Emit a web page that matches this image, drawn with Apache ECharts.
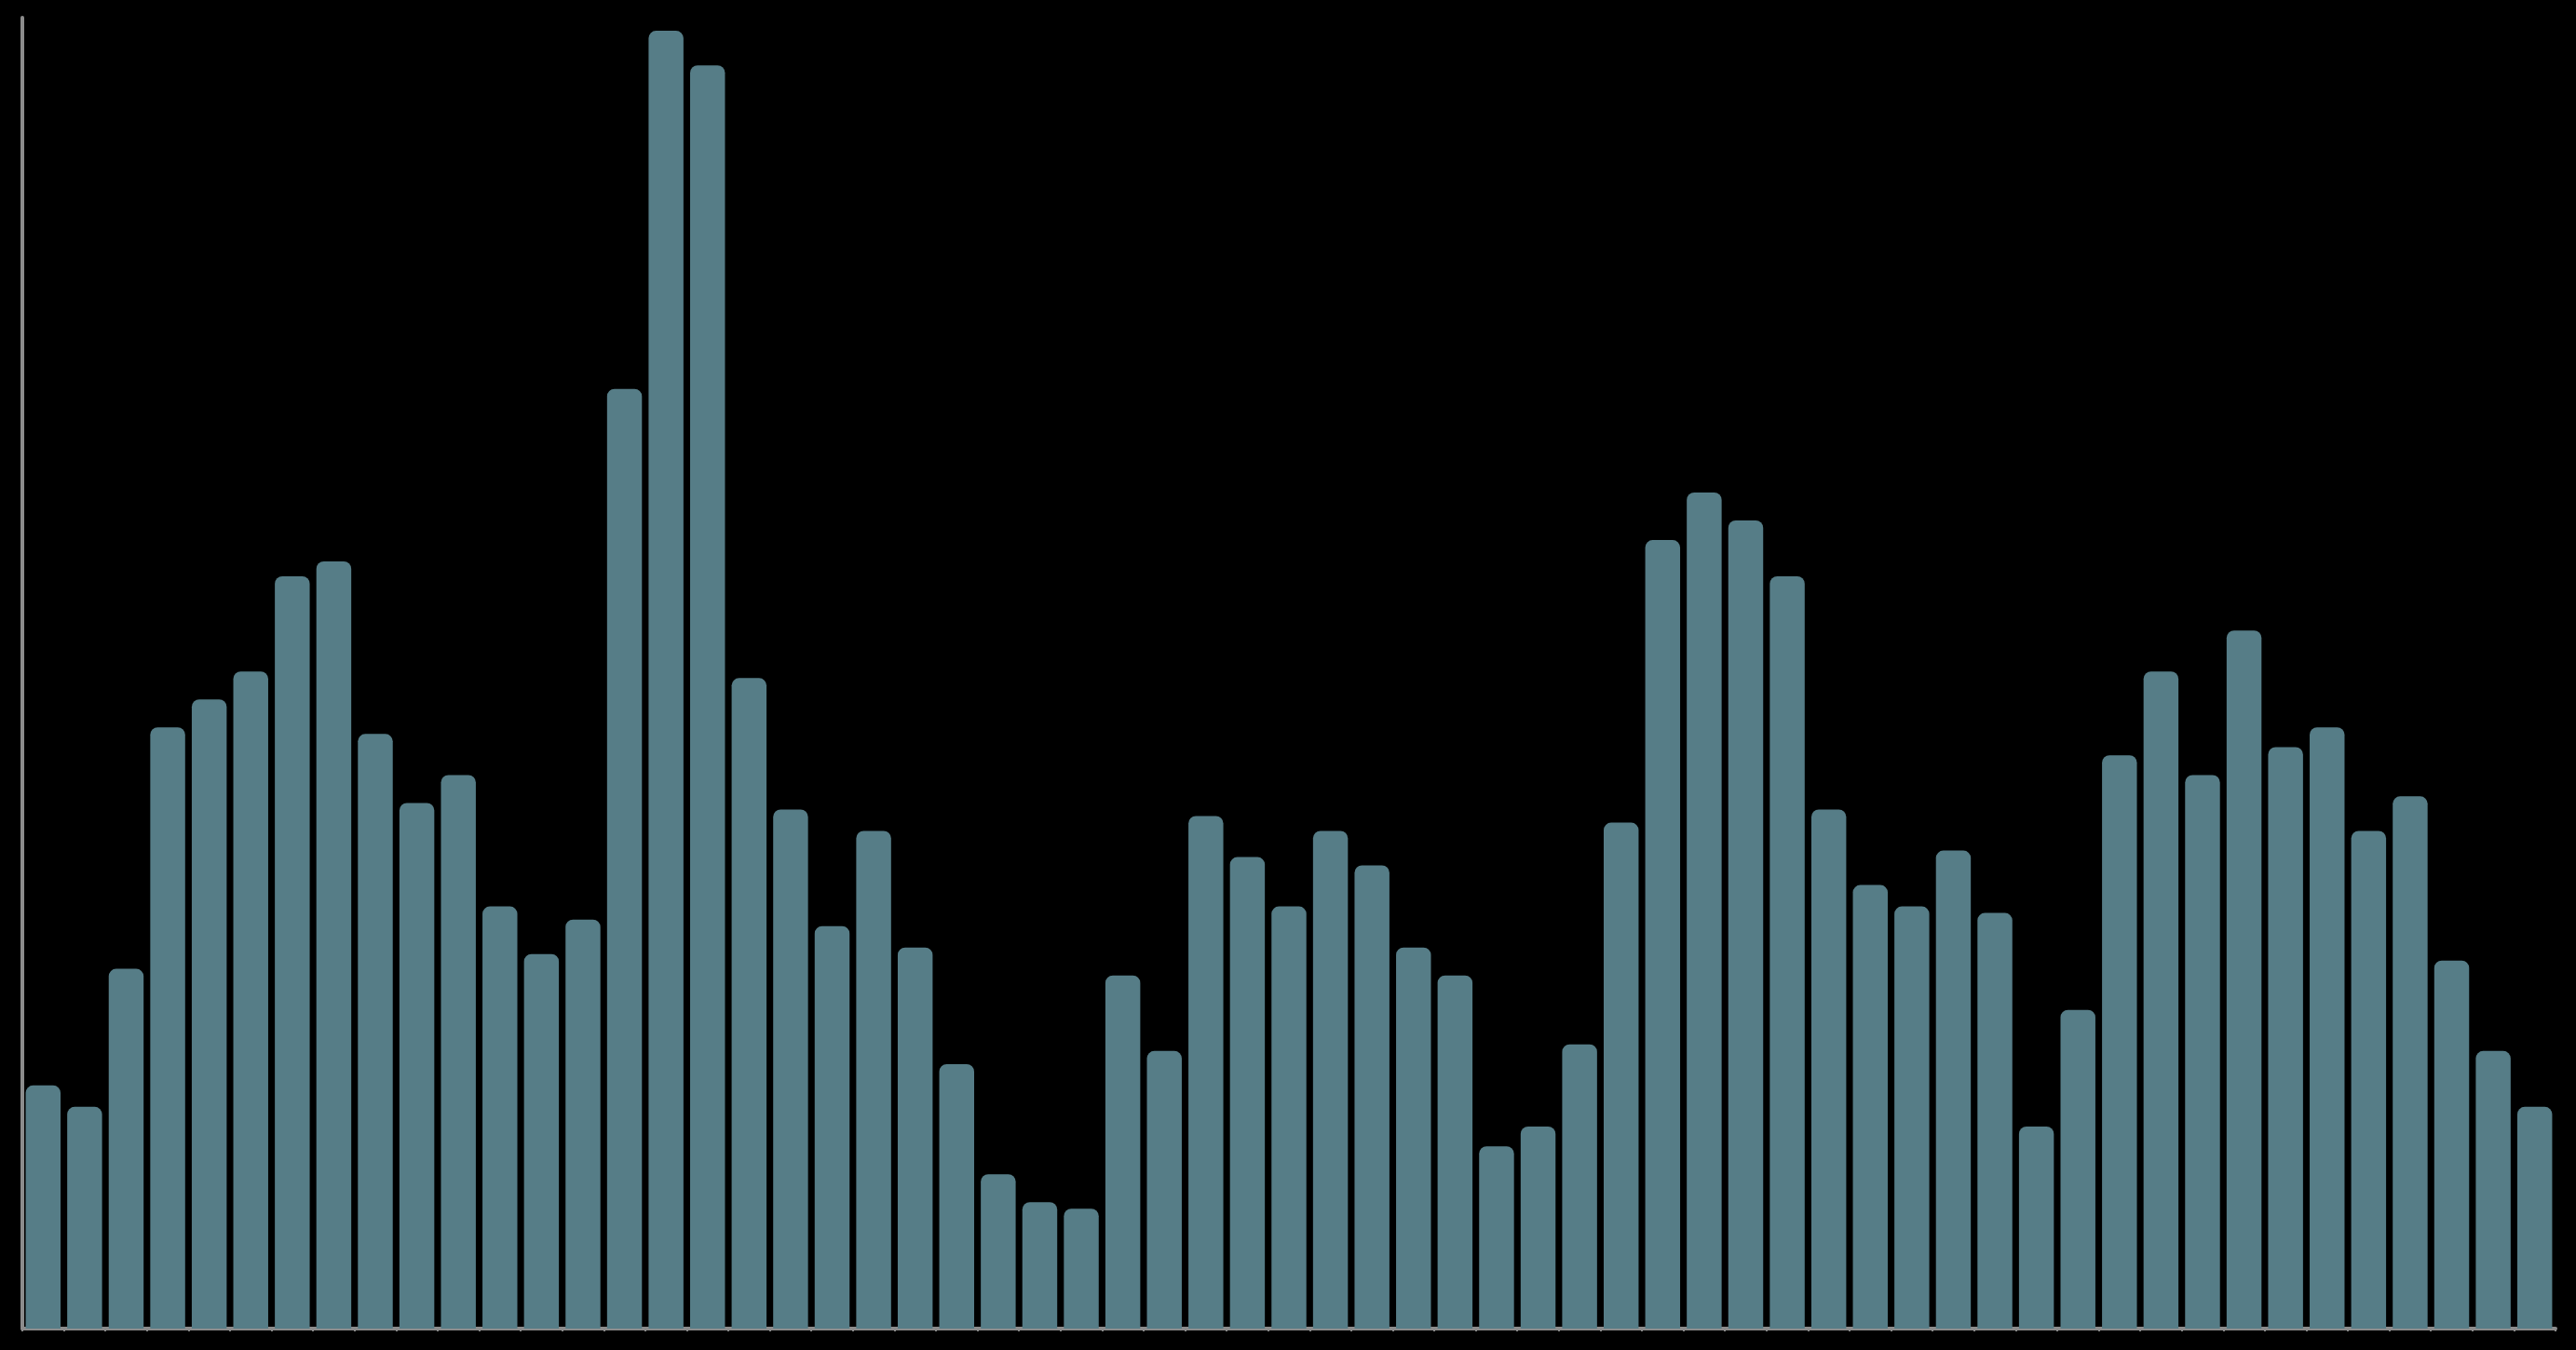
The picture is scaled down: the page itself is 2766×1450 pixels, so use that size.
<!DOCTYPE html>
<html>
<head>
<meta charset="utf-8">
<script src="https://cdn.jsdelivr.net/npm/echarts@6/dist/echarts.min.js"></script>
<style>
html,body{margin:0;padding:0;background:#000;}
#chart{width:2766px;height:1450px;}
</style>
</head>
<body>
<div id="chart"></div>
<script>
const categories = [];
for (let i = 1; i <= 61; i++) categories.push(String(i));

const values = [
  148, 135, 219, 366, 383, 400, 458, 467, 362, 320,
  337, 257, 228, 249, 572, 790, 769, 396, 316, 245,
  303, 232, 161, 94, 77, 73, 215, 169, 312, 287,
  257, 303, 282, 232, 215, 111, 123, 173, 308, 480,
  509, 492, 458, 316, 270, 257, 291, 253, 123, 194,
  349, 400, 337, 425, 354, 366, 303, 324, 224, 169,
  135
];

const yMax = 798;

const chart = echarts.init(document.getElementById('chart'), null, {renderer: 'canvas'});
chart.setOption({
  backgroundColor: '#000000',
  animation: false,
  grid: {left: 24, right: 22, top: 19, bottom: 23, containLabel: false},
  xAxis: {
    type: 'category',
    data: categories,
    boundaryGap: true,
    axisLine: {show: true, lineStyle: {color: '#8c8c8c', width: 4}},
    axisTick: {show: true, length: 3, lineStyle: {color: '#8c8c8c', width: 2}},
    axisLabel: {show: false},
    splitLine: {show: false}
  },
  yAxis: {
    type: 'value',
    min: 0,
    max: yMax,
    axisLine: {show: true, lineStyle: {color: '#8c8c8c', width: 4}},
    axisTick: {show: false},
    axisLabel: {show: false},
    splitLine: {show: false}
  },
  series: [{
    type: 'bar',
    data: values,
    barCategoryGap: '16%',
    itemStyle: {color: '#567d87', borderRadius: [8, 8, 0, 0]}
  }]
});
</script>
</body>
</html>
